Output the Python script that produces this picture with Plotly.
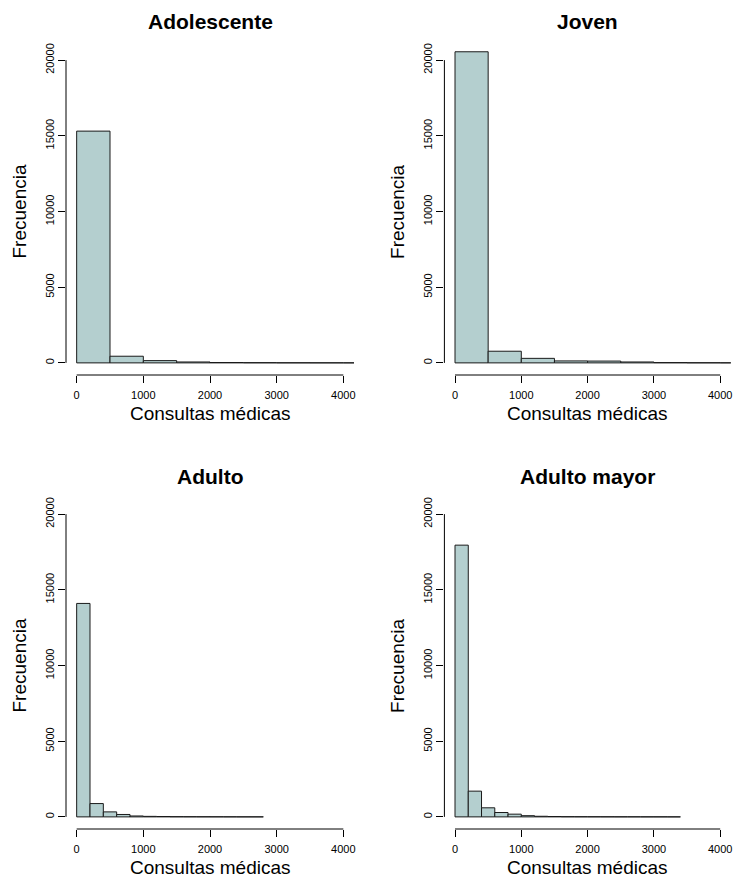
import plotly.graph_objects as go

# ---------------- data ----------------
panel_titles = ["Adolescente", "Joven", "Adulto", "Adulto mayor"]
bin_widths = [500, 500, 200, 200]

adolescente_counts = [15310, 440, 150, 60, 25, 15, 8, 5, 3, 2]
joven_counts = [20550, 770, 300, 130, 120, 60, 20, 10, 5, 3]
adulto_counts = [14100, 880, 330, 160, 60, 35, 25, 15, 12, 10, 8, 5, 4, 3]
adulto_mayor_counts = [17950, 1700, 600, 290, 180, 80, 40, 25, 15, 12, 10, 8, 6, 5, 4, 3, 2]

x_ticks = [0, 1000, 2000, 3000, 4000]
x_tick_labels = ["0", "1000", "2000", "3000", "4000"]
y_ticks = [0, 5000, 10000, 15000, 20000]
y_tick_labels = ["0", "5000", "10000", "15000", "20000"]
x_label = "Consultas médicas"
y_label = "Frecuencia"

# ---------------- layout helpers ----------------
W, H = 733, 881
FONT = "Liberation Sans, Arial, Helvetica, sans-serif"
BAR_COLOR = "#B4CFCF"

def px_x(p):
    return p / W

def px_y(p):
    return 1 - p / H

x_range = [-160, 4160]
y_range = [-800, 20800]

# plot regions in pixels: (left, right, top, bottom)
regions = [
    (66, 354, 48, 375),
    (444.4, 730.8, 48, 375),
    (66, 354, 502, 829),
    (444.4, 730.8, 502, 829),
]

series = [adolescente_counts, joven_counts, adulto_counts, adulto_mayor_counts]

fig = go.Figure()
shapes = []
annotations = []

for i, (title, bw, counts, reg) in enumerate(zip(panel_titles, bin_widths, series, regions)):
    left, right, top, bottom = reg
    xd = [px_x(left), px_x(right)]
    yd = [px_y(bottom), px_y(top)]
    n = "" if i == 0 else str(i + 1)
    edges = [k * bw for k in range(len(counts))]
    fig.add_trace(go.Bar(
        x=edges, y=counts, width=[bw] * len(counts), offset=0,
        marker=dict(color=BAR_COLOR, line=dict(color="#1a1a1a", width=1)),
        xaxis="x" + n, yaxis="y" + n, showlegend=False,
        hovertemplate="%{x}: %{y}<extra></extra>",
    ))
    axis_common = dict(showgrid=False, zeroline=False, showline=False, automargin=False,
                       ticks="outside", ticklen=7, tickwidth=1, tickcolor="black",
                       tickfont=dict(family=FONT, size=11, color="black"))
    fig.update_layout(**{
        "xaxis" + n: dict(domain=xd, anchor="y" + n, range=x_range,
                          tickmode="array", tickvals=x_ticks, ticktext=x_tick_labels,
                          ticklabelstandoff=3, **axis_common),
        "yaxis" + n: dict(domain=yd, anchor="x" + n, range=y_range,
                          tickmode="array", tickvals=y_ticks, ticktext=y_tick_labels,
                          tickangle=-90, **axis_common),
    })

    def xp(v, xd=xd):
        return xd[0] + (v - x_range[0]) / (x_range[1] - x_range[0]) * (xd[1] - xd[0])

    def yp(v, yd=yd):
        return yd[0] + (v - y_range[0]) / (y_range[1] - y_range[0]) * (yd[1] - yd[0])

    # R-style axis lines spanning first to last tick
    shapes.append(dict(type="line", xref="paper", yref="paper",
                       x0=xp(x_ticks[0]), x1=xp(x_ticks[-1]), y0=yd[0], y1=yd[0],
                       line=dict(color="black", width=1)))
    shapes.append(dict(type="line", xref="paper", yref="paper",
                       x0=xd[0], x1=xd[0], y0=yp(y_ticks[0]), y1=yp(y_ticks[-1]),
                       line=dict(color="black", width=1)))

    cx = (xd[0] + xd[1]) / 2
    cy = (yd[0] + yd[1]) / 2
    # title
    annotations.append(dict(text="<b>" + title + "</b>", xref="paper", yref="paper",
                            x=cx, y=px_y(top - 26), xanchor="center", yanchor="middle",
                            showarrow=False, font=dict(family=FONT, size=21, color="black")))
    # x label
    annotations.append(dict(text=x_label, xref="paper", yref="paper",
                            x=cx, y=px_y(bottom + 38), xanchor="center", yanchor="middle",
                            showarrow=False, font=dict(family=FONT, size=19, color="black")))
    # y label
    annotations.append(dict(text=y_label, xref="paper", yref="paper",
                            x=px_x(left - 47), y=cy, xanchor="center", yanchor="middle",
                            textangle=-90, showarrow=False,
                            font=dict(family=FONT, size=19, color="black")))

fig.update_layout(
    width=W, height=H,
    margin=dict(l=0, r=0, t=0, b=0),
    paper_bgcolor="white", plot_bgcolor="white",
    shapes=shapes, annotations=annotations,
    font=dict(family=FONT, color="black"),
)

fig.write_html("out.html")
